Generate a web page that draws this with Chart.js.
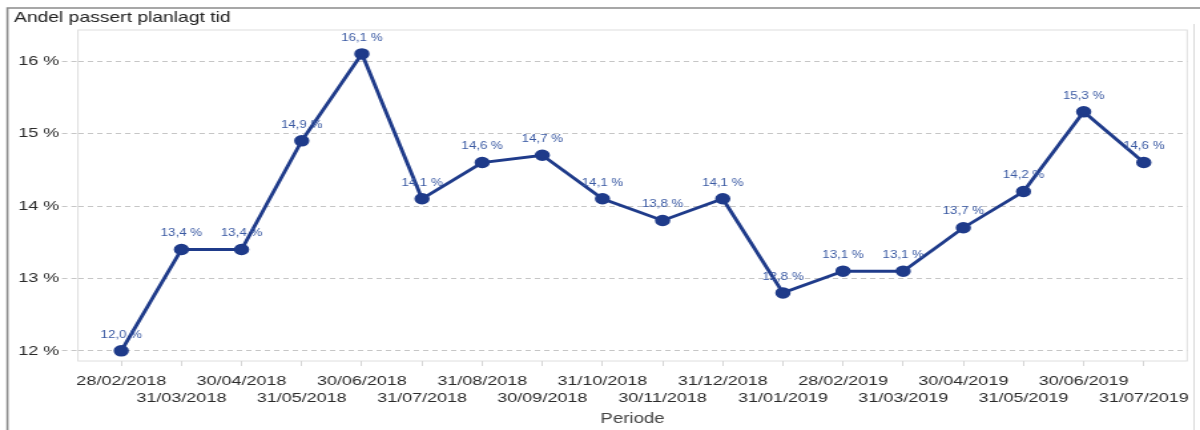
<!DOCTYPE html>
<html>
<head>
<meta charset="utf-8">
<script src="https://cdn.jsdelivr.net/npm/chart.js@4/dist/chart.umd.min.js"></script>
<style>
  html, body { margin: 0; padding: 0; background: #fff; overflow: hidden; }
  /* the chart is laid out narrow and widened sideways */
  #wrap { position: absolute; left: 0; top: 0; width: 902px; height: 430px;
          transform: scaleX(1.3304); transform-origin: 0 0; }
</style>
</head>
<body>
<div id="wrap"><canvas id="lineChart"></canvas></div>
<script>
const chartTitle = 'Andel passert planlagt tid';
const axisTitle = 'Periode';

const periods = [
  '28/02/2018', '31/03/2018', '30/04/2018', '31/05/2018', '30/06/2018', '31/07/2018',
  '31/08/2018', '30/09/2018', '31/10/2018', '30/11/2018', '31/12/2018', '31/01/2019',
  '28/02/2019', '31/03/2019', '30/04/2019', '31/05/2019', '30/06/2019', '31/07/2019'
];
const shares = [
  12.0, 13.4, 13.4, 14.9, 16.1, 14.1,
  14.6, 14.7, 14.1, 13.8, 14.1, 12.8,
  13.1, 13.1, 13.7, 14.2, 15.3, 14.6
];
const yTicks = [12, 13, 14, 15, 16];

const FONT = '"Liberation Sans", Arial, sans-serif';
const LINE = '#1f3b8a';

const fmt = v => v.toFixed(1).replace('.', ',') + ' %';

const decor = {
  id: 'decor',
  beforeDraw(chart) {
    const { ctx, chartArea: a } = chart;
    ctx.save();
    // outer frame
    ctx.strokeStyle = '#8a8a8a';
    ctx.lineWidth = 1.6;
    ctx.beginPath();
    ctx.moveTo(5.6, 430);
    ctx.lineTo(5.6, 8);
    ctx.lineTo(chart.width, 8);
    ctx.stroke();
    ctx.strokeStyle = '#dadada';
    ctx.lineWidth = 1;
    ctx.beginPath();
    ctx.moveTo(897.5, 24);
    ctx.lineTo(897.5, 430);
    ctx.stroke();
    // plot box
    ctx.strokeStyle = '#dedede';
    ctx.strokeRect(a.left, a.top, a.right - a.left, a.bottom - a.top);
    // heading
    ctx.fillStyle = '#222';
    ctx.font = '14.5px ' + FONT;
    ctx.textBaseline = 'middle';
    ctx.fillText(chartTitle, 10.5, 18);
    ctx.restore();
  },
  afterDatasetsDraw(chart) {
    const { ctx } = chart;
    const meta = chart.getDatasetMeta(0);
    ctx.save();
    ctx.fillStyle = '#3b5aa3';
    ctx.font = '10px ' + FONT;
    ctx.textAlign = 'center';
    ctx.textBaseline = 'middle';
    meta.data.forEach((pt, i) => {
      ctx.fillText(fmt(shares[i]), pt.x, pt.y - 16);
    });
    ctx.restore();
  }
};

new Chart(document.getElementById('lineChart'), {
  type: 'line',
  data: {
    datasets: [{
      data: shares.map((v, i) => ({ x: i, y: v })),
      borderColor: LINE,
      backgroundColor: LINE,
      borderWidth: 2.9,
      pointRadius: 4.3,
      pointBackgroundColor: LINE,
      pointBorderColor: LINE,
      tension: 0
    }]
  },
  options: {
    responsive: true,
    maintainAspectRatio: false,
    animation: false,
    layout: { padding: { top: 30, right: 9.7, left: 0, bottom: 0 } },
    plugins: { legend: { display: false }, tooltip: { enabled: false } },
    scales: {
      x: {
        type: 'linear',
        min: -0.72,
        max: 17.72,
        afterBuildTicks: s => { s.ticks = periods.map((p, i) => ({ value: i })); },
        afterFit: s => { s.height = 69; },
        border: { display: false },
        grid: { drawOnChartArea: false, drawTicks: true, tickLength: 5, tickColor: '#d6d6d6' },
        ticks: {
          autoSkip: false,
          maxRotation: 0,
          minRotation: 0,
          padding: 6.5,
          color: '#2a2a2a',
          font: { family: FONT, size: 13.5, lineHeight: 1.25 },
          // stagger the dates on two rows
          callback: (v, i) => i % 2 === 0 ? [periods[i], ''] : ['', periods[i]]
        },
        title: {
          display: true,
          text: axisTitle,
          color: '#444',
          font: { family: FONT, size: 14 },
          padding: { top: 0, bottom: 2 }
        }
      },
      y: {
        min: 11.86,
        max: 16.43,
        afterBuildTicks: s => { s.ticks = yTicks.map(v => ({ value: v })); },
        afterFit: s => { s.width = 58.6; },
        // dashed horizontal grid lines
        border: { display: false, dash: [4, 3] },
        grid: {
          color: '#c6c6c6',
          lineWidth: 1,
          tickLength: 12,
          tickColor: '#c6c6c6',
          tickBorderDash: [4, 3]
        },
        ticks: {
          padding: 2,
          color: '#2a2a2a',
          font: { family: FONT, size: 13.5 },
          callback: v => v + ' %'
        }
      }
    }
  },
  plugins: [decor]
});
</script>
</body>
</html>
